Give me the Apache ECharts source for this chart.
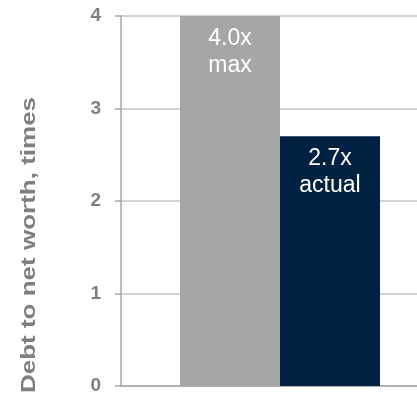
<!DOCTYPE html>
<html>
<head>
<meta charset="utf-8">
<script src="https://cdn.jsdelivr.net/npm/echarts@6/dist/echarts.min.js"></script>
<style>
  html, body { margin: 0; padding: 0; background: #fff; }
  #chart { width: 417px; height: 397px; }
</style>
</head>
<body>
<div id="chart"></div>
<script>
// Debt-to-net-worth covenant: limit vs. actual
const categories = ['Debt to net worth'];
const seriesNames = ['max', 'actual'];
const maxValues = [4.0];
const actualValues = [2.7];
const spacerValues = [null];
const yTicks = [0, 1, 2, 3, 4];
const axisTitle = 'Debt to net worth, times';

const chart = echarts.init(document.getElementById('chart'), null, { renderer: 'canvas' });

const labelStyle = (name) => ({
  show: true,
  position: 'insideTop',
  distance: 9,
  color: '#ffffff',
  fontFamily: 'Liberation Sans, Arial, sans-serif',
  fontSize: 23,
  lineHeight: 27,
  formatter: (p) => p.value.toFixed(1) + 'x\n' + name
});

chart.setOption({
  animation: false,
  grid: { left: 121, right: 0, top: 16, bottom: 11 },
  xAxis: {
    type: 'category',
    data: categories,
    axisLine: { show: true, lineStyle: { color: '#a6a6a6', width: 1.5 } },
    axisTick: { show: false },
    axisLabel: { show: false }
  },
  yAxis: {
    type: 'value',
    min: yTicks[0],
    max: yTicks[yTicks.length - 1],
    interval: 1,
    axisLine: { show: true, lineStyle: { color: '#a6a6a6', width: 1.5 } },
    axisTick: { show: true, length: 6, lineStyle: { color: '#a6a6a6', width: 1.5 } },
    axisLabel: {
      margin: 20,
      color: '#7f7f7f',
      fontFamily: 'Liberation Sans, Arial, sans-serif',
      fontWeight: 'bold',
      fontSize: 19
    },
    splitLine: { show: true, lineStyle: { color: '#c4c4c4', width: 1.5 } }
  },
  series: [
    {
      // empty slot that nudges the bar pair to the right
      name: 'spacer',
      type: 'bar',
      data: spacerValues,
      barWidth: 22,
      barGap: '0%',
      silent: true,
      itemStyle: { color: 'transparent' }
    },
    {
      name: seriesNames[0],
      type: 'bar',
      data: maxValues,
      barWidth: 100,
      barGap: '0%',
      itemStyle: { color: '#a6a6a6' },
      label: labelStyle(seriesNames[0])
    },
    {
      name: seriesNames[1],
      type: 'bar',
      data: actualValues,
      barWidth: 100,
      barGap: '0%',
      itemStyle: { color: '#002142' },
      label: labelStyle(seriesNames[1])
    }
  ],
  graphic: [
    {
      type: 'text',
      x: 29,
      y: 245,
      rotation: Math.PI / 2,
      scaleX: 1.3,
      style: {
        text: axisTitle,
        fill: '#7f7f7f',
        fontFamily: 'Liberation Sans, Arial, sans-serif',
        fontWeight: 'bold',
        fontSize: 20,
        align: 'center',
        verticalAlign: 'middle'
      }
    }
  ]
});
</script>
</body>
</html>
